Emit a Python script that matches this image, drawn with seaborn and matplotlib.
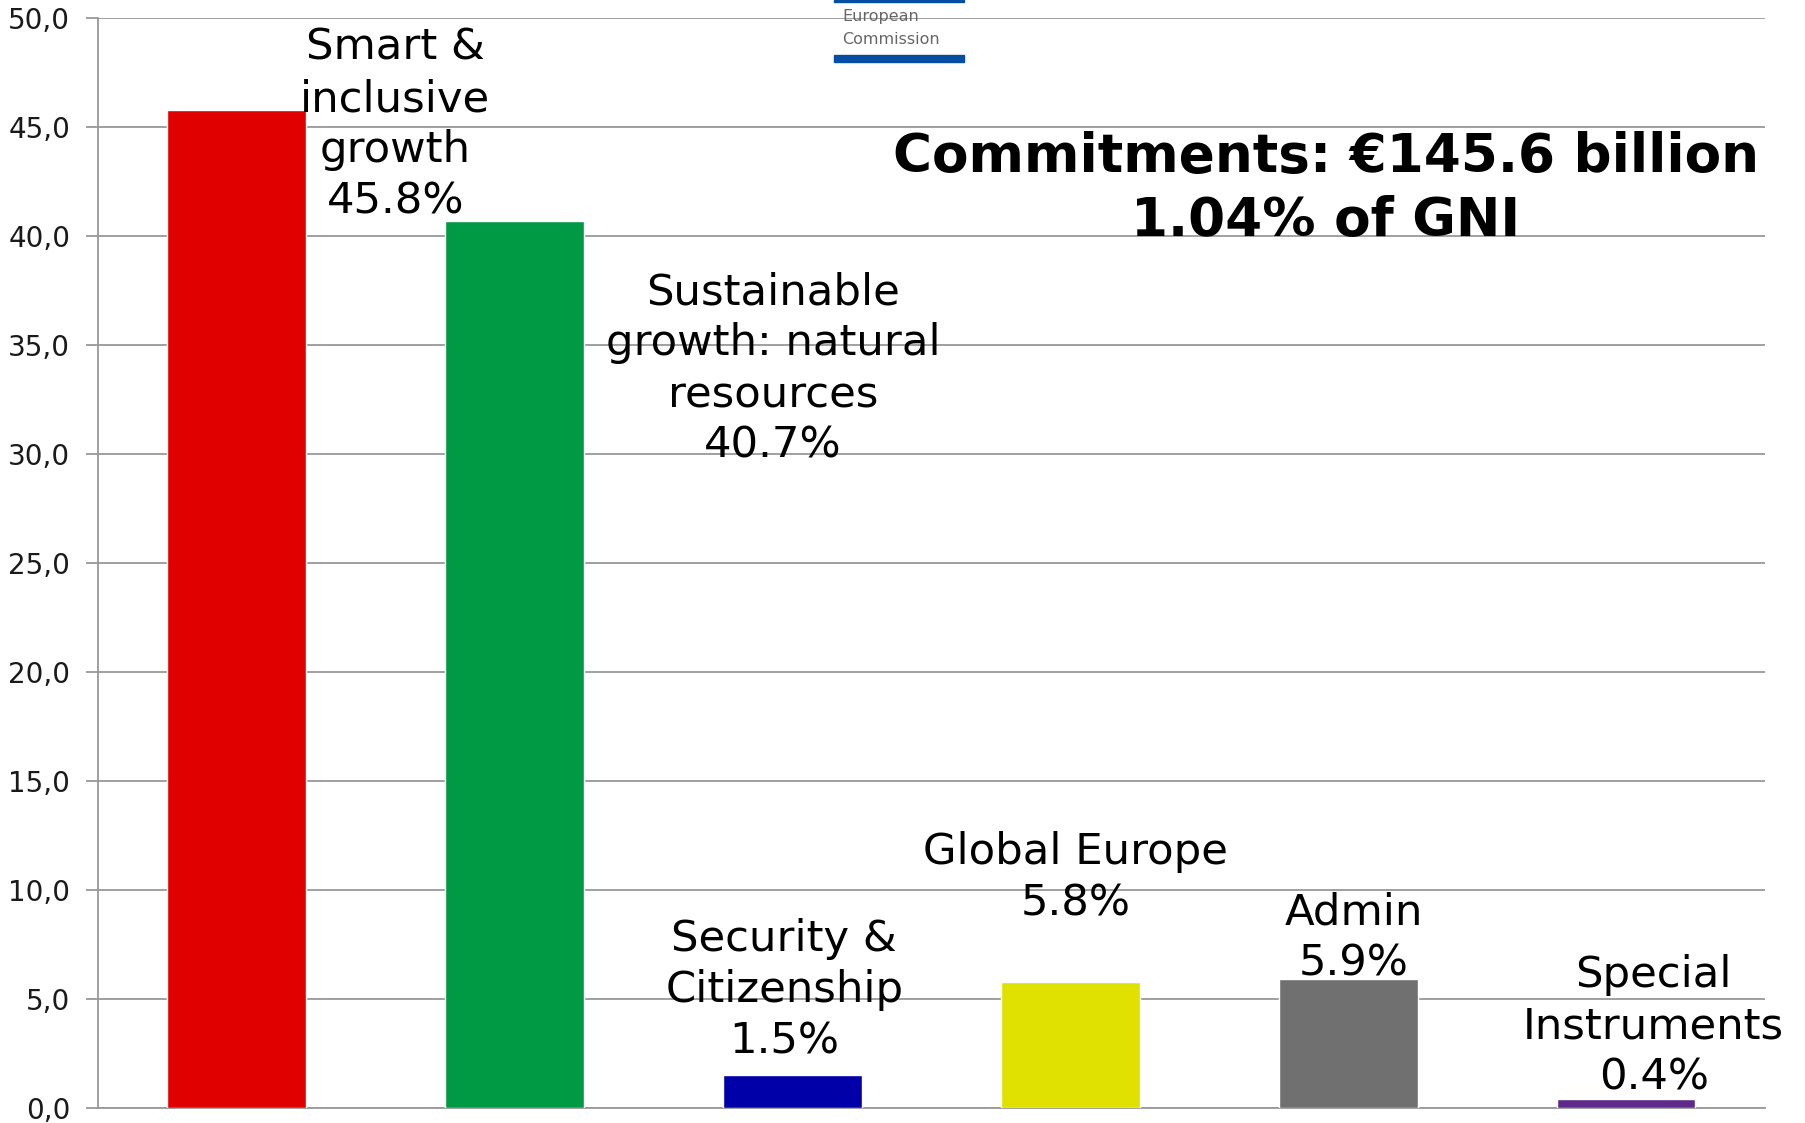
import matplotlib

matplotlib.use("Agg")
import matplotlib.pyplot as plt
import pandas as pd
import seaborn as sns
from matplotlib.patches import Rectangle
from matplotlib.ticker import FuncFormatter

sns.set_theme(style="white")
plt.rcParams["font.family"] = ["DejaVu Sans"]

# data
categories = [
    "Smart & inclusive growth",
    "Sustainable growth: natural resources",
    "Security & Citizenship",
    "Global Europe",
    "Admin",
    "Special Instruments",
]
shares = [45.8, 40.7, 1.5, 5.8, 5.9, 0.4]
bar_labels = [
    "Smart &\ninclusive\ngrowth\n45.8%",
    "Sustainable\ngrowth: natural\nresources\n40.7%",
    "Security &\nCitizenship\n1.5%",
    "Global Europe\n5.8%",
    "Admin\n5.9%",
    "Special\nInstruments\n0.4%",
]
y_ticks = [0, 5, 10, 15, 20, 25, 30, 35, 40, 45, 50]

# layout / style
bar_colors = ["#e10000", "#009a44", "#0000a8", "#e1e100", "#707070", "#5f2a8c"]
label_x = [0.57, 0.93, -0.03, 0.02, 0.02, 0.10]
label_y = [45.1, 33.9, 5.4, 10.55, 7.8, 3.75]

df = pd.DataFrame({"category": categories, "share": shares})

fig = plt.figure(figsize=(18.05, 11.23), dpi=100)
ax = fig.add_axes([0.0543, 0.0134, 0.9235, 0.9706])

sns.barplot(
    data=df,
    x="category",
    y="share",
    hue="category",
    palette=bar_colors,
    width=0.5,
    saturation=1,
    legend=False,
    ax=ax,
    zorder=3,
)

ax.set_xlim(-0.5, 5.5)
ax.set_ylim(0, 50)
ax.set_yticks(y_ticks)
ax.yaxis.set_major_formatter(FuncFormatter(lambda v, _: f"{v:.1f}".replace(".", ",")))
ax.tick_params(axis="y", labelsize=20, length=9, width=1.3, color="#999999",
               pad=11, labelcolor="#1a1a1a", left=True)
ax.set_xticks([])
ax.set_xlabel("")
ax.set_ylabel("")
ax.grid(axis="y", color="#999999", linewidth=1.3, zorder=0)
ax.set_axisbelow(True)
for side in ["top", "right"]:
    ax.spines[side].set_visible(False)
for side in ["left", "bottom"]:
    ax.spines[side].set_color("#999999")
    ax.spines[side].set_linewidth(1.3)

for i, text in enumerate(bar_labels):
    ax.text(i + label_x[i], label_y[i], text, ha="center", va="center",
            fontsize=31.2, color="black", linespacing=1.28, zorder=4)

ax.text(0.7365, 0.843, "Commitments: €145.6 billion\n1.04% of GNI",
        transform=ax.transAxes, ha="center", va="center",
        fontsize=38.3, fontweight="bold", color="black", linespacing=1.28, zorder=5)

# European Commission mark at the top
fig.patches.append(Rectangle((834 / 1805, 1 - 2 / 1123), 130 / 1805, 2 / 1123,
                             transform=fig.transFigure, color="#034ea2", zorder=6))
fig.patches.append(Rectangle((834 / 1805, 1 - 62 / 1123), 130 / 1805, 7 / 1123,
                             transform=fig.transFigure, color="#034ea2", zorder=6))
fig.text(842 / 1805, 1 - 17 / 1123, "European", ha="left", va="center",
         fontsize=11.5, color="#666666")
fig.text(842 / 1805, 1 - 39 / 1123, "Commission", ha="left", va="center",
         fontsize=11.5, color="#666666")

fig.savefig("out.png", dpi=100)
